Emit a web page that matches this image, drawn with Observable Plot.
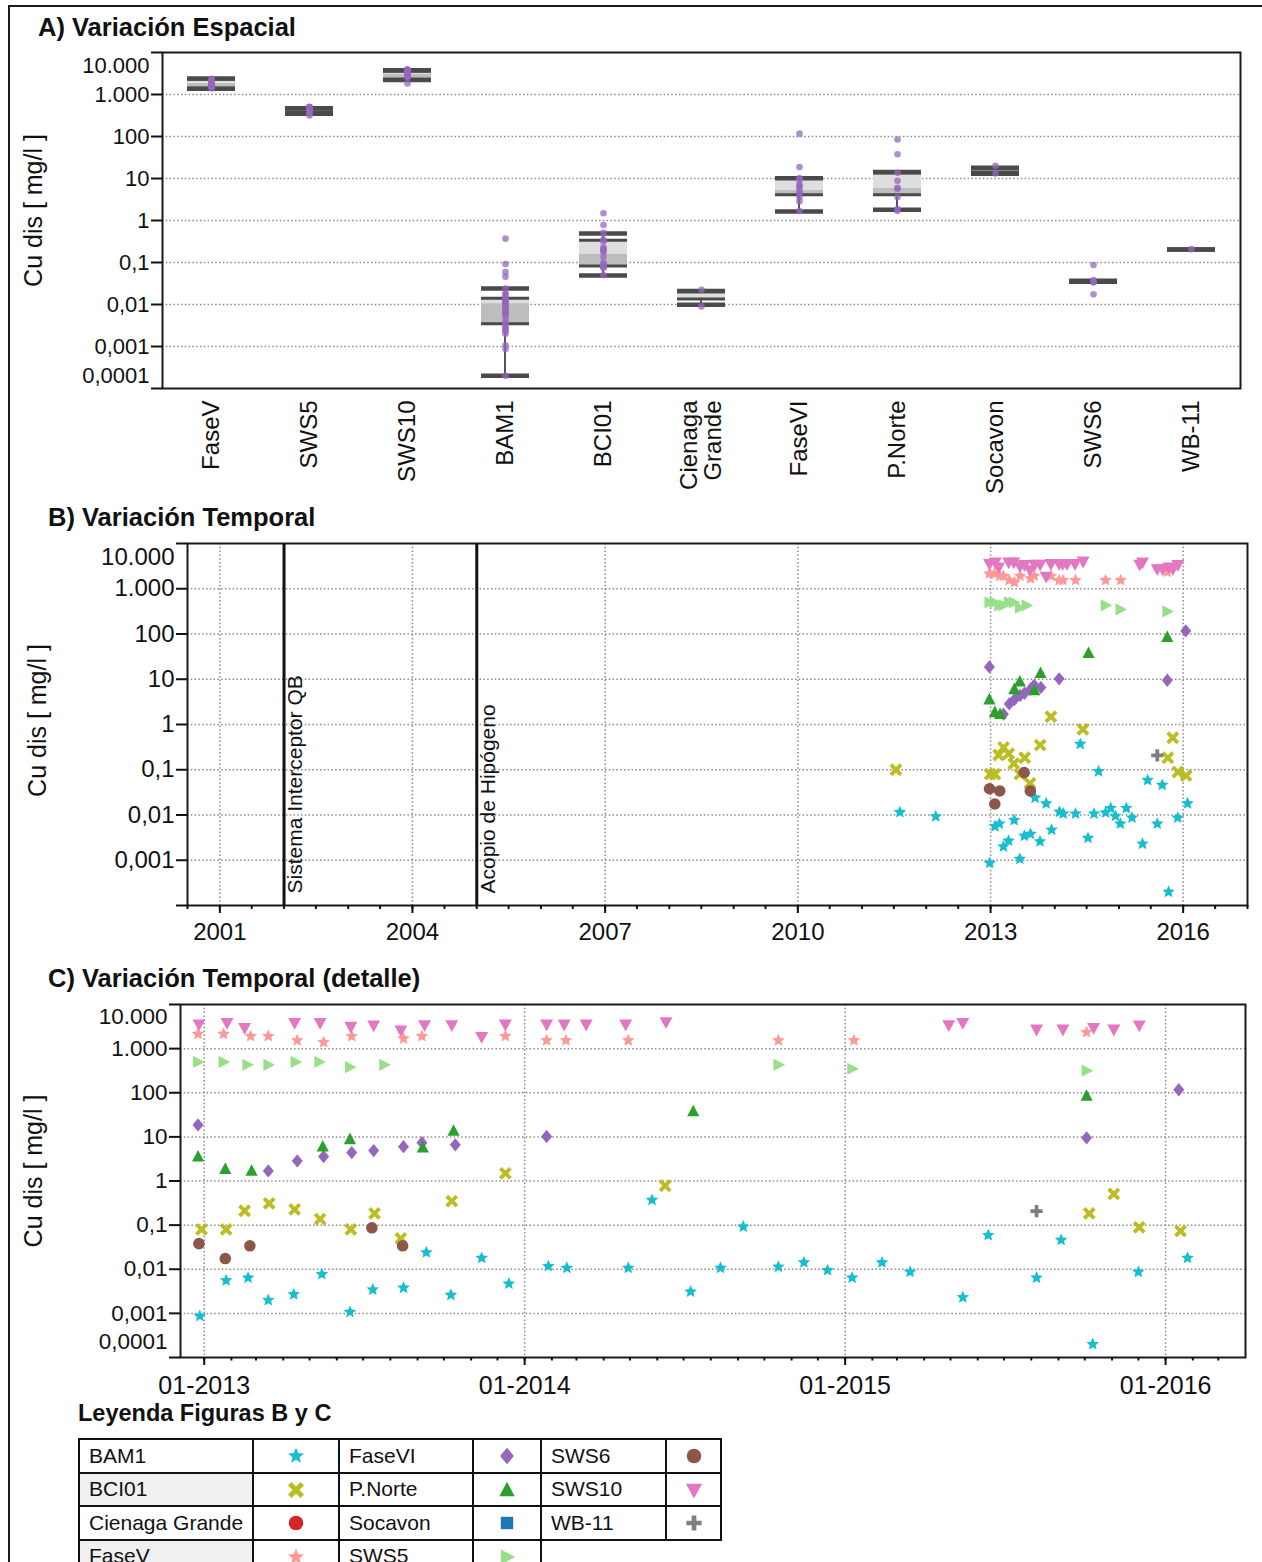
<!DOCTYPE html>
<html lang="es">
<head>
<meta charset="utf-8">
<title>Cu disuelto - variación espacial y temporal</title>
<script src="https://cdn.jsdelivr.net/npm/d3@7"></script>
<script src="https://cdn.jsdelivr.net/npm/@observablehq/plot@0.6"></script>
<style>
  html, body { margin: 0; padding: 0; background: #fff; }
  body { width: 1262px; height: 1562px; overflow: hidden; position: relative;
         font-family: "Liberation Sans", Arial, sans-serif; color: #111; }
  .border { position: absolute; left: 8px; top: 5px; width: 1400px; height: 1700px;
            border-left: 2px solid #1a1a1a; border-top: 2px solid #1a1a1a; z-index: 5; pointer-events: none; }
  .panel { position: absolute; left: 0; }
  .panel svg { display: block; max-width: none; background: transparent; }
  .title { position: absolute; font-weight: bold; font-size: 25.5px; line-height: 1; white-space: nowrap; }
  #legend-title { font-size: 23.5px; }
  table.legend { position: absolute; left: 78px; top: 1438px; width: 642px; border-collapse: collapse;
                 table-layout: fixed; font-size: 21px; }
  table.legend td { border: 2px solid #111; height: 31.5px; padding: 0 0 0 9px; white-space: nowrap; overflow: hidden; }
  table.legend td.shade { background: #f0f0f0; }
  table.legend td.sym { text-align: center; padding: 0; }
  table.legend td svg { display: inline-block; vertical-align: middle; }
</style>
</head>
<body>
<div class="border"></div>
<div id="panelA" class="panel" style="top:0px"></div>
<div id="panelB" class="panel" style="top:500px"></div>
<div id="panelC" class="panel" style="top:960px"></div>
<div class="title" style="left:38px;top:15px">A) Variación Espacial</div>
<div class="title" style="left:48px;top:505px">B) Variación Temporal</div>
<div class="title" style="left:48px;top:966px">C) Variación Temporal (detalle)</div>
<div class="title" id="legend-title" style="left:78px;top:1402px">Leyenda Figuras B y C</div>
<script>
// ---- Cu disuelto [mg/l] por estación: [fecha de muestreo, concentración] ----
const BAM1 = [
  ["2011-08-04", 0.0115], ["2012-02-24", 0.0093], ["2012-12-27", 0.00087], ["2013-01-26", 0.0056],
  ["2013-02-20", 0.0064], ["2013-03-15", 0.0020], ["2013-04-13", 0.0027], ["2013-05-15", 0.0077],
  ["2013-06-16", 0.00107], ["2013-07-12", 0.00345], ["2013-08-16", 0.0038], ["2013-09-11", 0.024],
  ["2013-10-09", 0.0026], ["2013-11-13", 0.018], ["2013-12-14", 0.0047], ["2014-01-28", 0.0117],
  ["2014-02-18", 0.0107], ["2014-04-29", 0.0107], ["2014-05-26", 0.37], ["2014-07-09", 0.0031],
  ["2014-08-12", 0.0107], ["2014-09-07", 0.092], ["2014-10-17", 0.0113], ["2014-11-15", 0.0142],
  ["2014-12-12", 0.0095], ["2015-01-09", 0.0064], ["2015-02-12", 0.0142], ["2015-03-16", 0.0087],
  ["2015-05-15", 0.0023], ["2015-06-13", 0.059], ["2015-08-07", 0.0064], ["2015-09-04", 0.046],
  ["2015-10-10", 0.0002], ["2015-12-01", 0.0087], ["2016-01-26", 0.018]
];
const BCI01 = [
  ["2011-07-13", 0.1], ["2012-12-29", 0.080], ["2013-01-26", 0.080], ["2013-02-16", 0.212],
  ["2013-03-16", 0.31], ["2013-04-14", 0.227], ["2013-05-13", 0.137], ["2013-06-17", 0.080],
  ["2013-07-14", 0.184], ["2013-08-13", 0.050], ["2013-10-10", 0.35], ["2013-12-10", 1.49],
  ["2014-06-10", 0.78], ["2015-10-06", 0.184], ["2015-11-03", 0.51], ["2015-12-02", 0.089],
  ["2016-01-18", 0.074]
];
const FaseV = [
  ["2012-12-25", 2150], ["2013-01-23", 2150], ["2013-02-23", 1910], ["2013-03-15", 1910],
  ["2013-04-17", 1540], ["2013-05-17", 1390], ["2013-06-18", 1910], ["2013-08-16", 1690],
  ["2013-09-06", 1910], ["2013-12-10", 1910], ["2014-01-26", 1540], ["2014-02-17", 1540],
  ["2014-04-29", 1540], ["2014-10-17", 1540], ["2015-01-11", 1540], ["2015-10-03", 2350]
];
const FaseVI = [
  ["2012-12-25", 18.7], ["2013-03-15", 1.69], ["2013-04-17", 2.85], ["2013-05-17", 3.57],
  ["2013-06-18", 4.4], ["2013-07-13", 4.9], ["2013-08-16", 6.0], ["2013-09-06", 7.4],
  ["2013-10-14", 6.6], ["2014-01-26", 10.2], ["2015-10-03", 9.5], ["2016-01-16", 117]
];
const PNorte = [
  ["2012-12-25", 3.57], ["2013-01-25", 1.87], ["2013-02-24", 1.69], ["2013-05-16", 6.0],
  ["2013-06-16", 8.85], ["2013-09-07", 5.7], ["2013-10-12", 13.7], ["2014-07-12", 37.7],
  ["2015-10-03", 85]
];
const SWS5 = [
  ["2012-12-25", 500], ["2013-01-23", 500], ["2013-02-19", 430], ["2013-03-15", 430],
  ["2013-04-15", 500], ["2013-05-12", 500], ["2013-06-16", 380], ["2013-07-25", 430],
  ["2014-10-17", 430], ["2015-01-09", 350], ["2015-10-03", 316]
];
const SWS6 = [
  ["2012-12-26", 0.038], ["2013-01-25", 0.0175], ["2013-02-22", 0.034], ["2013-07-11", 0.087],
  ["2013-08-15", 0.034]
];
const SWS10 = [
  ["2012-12-26", 3510], ["2013-01-27", 3800], ["2013-02-16", 2950], ["2013-04-14", 3800],
  ["2013-05-13", 3800], ["2013-06-17", 3110], ["2013-07-13", 3330], ["2013-08-13", 2570],
  ["2013-09-09", 3400], ["2013-10-10", 3400], ["2013-11-13", 1840], ["2013-12-10", 3500],
  ["2014-01-26", 3500], ["2014-02-15", 3500], ["2014-03-12", 3500], ["2014-04-26", 3500],
  ["2014-06-11", 3980], ["2015-04-29", 3400], ["2015-05-15", 3800], ["2015-08-07", 2700],
  ["2015-09-06", 2700], ["2015-10-11", 2950], ["2015-11-03", 2700], ["2015-12-02", 3330]
];
const WB11 = [["2015-08-07", 0.208]];
// Estaciones sin serie temporal en B y C (solo muestras de la figura A)
const cienagaCu = [0.0225, 0.009];
const socavonCu = [20, 13.2];

// ---- Resumen por estación de la figura A (mínimo, Q1, mediana, Q3, máximo) ----
const stationsA = ["FaseV", "SWS5", "SWS10", "BAM1", "BCI01", "Cienaga Grande", "FaseVI", "P.Norte", "Socavon", "SWS6", "WB-11"];
const boxLow  = [1380, 350, 2200, 0.0002, 0.049, 0.0098, 1.64, 1.8, 13, 0.035, 0.204];
const boxQ1   = [1400, 380, 2300, 0.0035, 0.083, 0.0135, 4.1, 4.1, 14, 0.0355, 0.204];
const boxMed  = [1850, 420, 3000, 0.0105, 0.16, 0.0143, 5.3, 5.8, 15.5, 0.036, 0.204];
const boxQ3   = [2300, 450, 3600, 0.014, 0.34, 0.02, 10, 13.5, 17, 0.0365, 0.204];
const boxHigh = [2400, 470, 3800, 0.024, 0.49, 0.021, 10.2, 14.2, 18, 0.037, 0.204];

// ---- Ejes ----
const decadeTicks = [1e-4, 1e-3, 1e-2, 1e-1, 1, 10, 100, 1000, 10000];
const decadeLabels = ["0,0001", "0,001", "0,01", "0,1", "1", "10", "100", "1.000", "10.000"];
const yearTicksB = ["2001-01-01", "2004-01-01", "2007-01-01", "2010-01-01", "2013-01-01", "2016-01-01"];
const yearTicksC = ["2013-01-01", "2014-01-01", "2015-01-01", "2016-01-01"];
const events = [
  {date: "2002-01-01", label: "Sistema Interceptor QB"},
  {date: "2005-01-01", label: "Acopio de Hipógeno"}
];
const legendOrder = ["BAM1", "BCI01", "Cienaga Grande", "FaseV", "FaseVI", "P.Norte", "Socavon", "SWS5", "SWS6", "SWS10", "WB-11"];
const yLabel = "Cu dis [ mg/l ]";

// ---- Estilo de marcadores ----
const colors = {
  "BAM1": "#17becf", "BCI01": "#bcbd22", "Cienaga Grande": "#d62728", "FaseV": "#ff9896",
  "FaseVI": "#9467bd", "P.Norte": "#2ca02c", "Socavon": "#1f77b4", "SWS5": "#98df8a",
  "SWS6": "#8c564b", "SWS10": "#e377c2", "WB-11": "#7f7f7f"
};
function polygon(points) {
  return {draw(context, size) {
    const r = Math.sqrt(size / Math.PI);
    points.forEach(([x, y], i) => i ? context.lineTo(x * r, y * r) : context.moveTo(x * r, y * r));
    context.closePath();
  }};
}
const starPts = d3.range(10).map(i => {
  const a = i * Math.PI / 5 - Math.PI / 2, k = i % 2 ? 0.46 : 1;
  return [k * Math.cos(a), k * Math.sin(a)];
});
const crossPts = (a, b) => [[-a,-b],[a,-b],[a,-a],[b,-a],[b,a],[a,a],[a,b],[-a,b],[-a,a],[-b,a],[-b,-a],[-a,-a]];
const rot45 = pts => pts.map(([x, y]) => [(x - y) / Math.SQRT2, (x + y) / Math.SQRT2]);
const symbols = {
  "BAM1": polygon(starPts),
  "BCI01": polygon(rot45(crossPts(0.38, 1.4))),
  "Cienaga Grande": d3.symbolCircle,
  "FaseV": polygon(starPts),
  "FaseVI": polygon([[0, -1.15], [0.95, 0], [0, 1.15], [-0.95, 0]]),
  "P.Norte": polygon([[0, -1.15], [1.05, 0.85], [-1.05, 0.85]]),
  "Socavon": polygon([[-0.9, -0.9], [0.9, -0.9], [0.9, 0.9], [-0.9, 0.9]]),
  "SWS5": polygon([[-0.85, -1.05], [1.15, 0], [-0.85, 1.05]]),
  "SWS6": d3.symbolCircle,
  "SWS10": polygon([[-1.1, -0.85], [1.1, -0.85], [0, 1.15]]),
  "WB-11": polygon(crossPts(0.32, 1.05))
};
const markerR = {
  "BAM1": 6.6, "BCI01": 5.1, "Cienaga Grande": 5.8, "FaseV": 6.6, "FaseVI": 5.8, "P.Norte": 5.8,
  "Socavon": 5.5, "SWS5": 5.8, "SWS6": 5.8, "SWS10": 5.9, "WB-11": 5.8
};
const legendScale = 1.25;

const font = "'Liberation Sans', Arial, sans-serif";
const labelOf = new Map(decadeTicks.map((d, i) => [d, decadeLabels[i]]));
const innerTicks = decadeTicks.slice(1, -1);
const dotted = {stroke: "#8a8a8a", strokeWidth: 1.5, strokeDasharray: "1.5,2.3"};

const seriesByStation = {
  "BAM1": BAM1, "BCI01": BCI01, "FaseV": FaseV, "FaseVI": FaseVI, "P.Norte": PNorte,
  "SWS5": SWS5, "SWS6": SWS6, "SWS10": SWS10, "WB-11": WB11
};
const extraA = {"Cienaga Grande": cienagaCu, "Socavon": socavonCu};
const temporal = legendOrder.filter(s => seriesByStation[s]).flatMap(s =>
  seriesByStation[s].map(([d, v]) => ({station: s, date: new Date(d), value: v})));

// Eje Y logarítmico con etiquetas en formato decimal español
function logAxis(fs, topDy, bottomDy) {
  const marks = [
    Plot.axisY(decadeTicks, {tickSize: 11, tickPadding: 2, strokeWidth: 2, fontSize: fs, label: null,
      tickFormat: d => innerTicks.includes(d) ? labelOf.get(d) : ""}),
    Plot.text([decadeTicks[decadeTicks.length - 1]], {y: d => d, text: d => labelOf.get(d),
      frameAnchor: "left", textAnchor: "end", dx: -13, dy: topDy, fontSize: fs})
  ];
  if (bottomDy != null) marks.push(Plot.text([decadeTicks[0]], {y: d => d, text: d => labelOf.get(d),
      frameAnchor: "left", textAnchor: "end", dx: -13, dy: bottomDy, fontSize: fs}));
  return marks;
}
function yTitle(dx, dy) {
  return Plot.text([yLabel], {frameAnchor: "left", rotate: -90, textAnchor: "middle", lineAnchor: "middle",
    dx, dy, fontSize: 25});
}
function seriesMarks(keep) {
  return legendOrder.filter(s => seriesByStation[s]).map(s =>
    Plot.dot(temporal.filter(d => d.station === s && keep(d)), {
      x: "date", y: "value", symbol: symbols[s], r: markerR[s], fill: colors[s], stroke: "none"
    }));
}
const plotStyle = {fontFamily: font, fontSize: "22px", color: "#111", background: "transparent", maxWidth: "none"};

// ---- A) Variación espacial: cajas por estación ----
const boxes = stationsA.map((s, i) => ({station: s, lo: boxLow[i], q1: boxQ1[i], med: boxMed[i], q3: boxQ3[i], hi: boxHigh[i]}));
const samplesA = stationsA.flatMap(s =>
  (seriesByStation[s] ? seriesByStation[s].map(d => d[1]) : extraA[s]).map(v => ({station: s, value: v})));
const boxInset = {insetLeft: 25, insetRight: 25};
const capStyle = {stroke: "#4a4a4a", ...boxInset};

const plotA = Plot.plot({
  width: 1262, height: 500, marginLeft: 162, marginRight: 22, marginTop: 52, marginBottom: 112,
  style: plotStyle,
  x: {type: "band", domain: stationsA, padding: 0, axis: null},
  y: {type: "log", domain: [1e-4, 1e4], label: null},
  marks: [
    Plot.ruleY(innerTicks, dotted),
    Plot.rectY(boxes, {x: "station", y1: "lo", y2: "hi", fill: "#555", insetLeft: 48, insetRight: 48}),
    Plot.rectY(boxes, {x: "station", y1: "q1", y2: "med", fill: "#bdbdbd", ...boxInset}),
    Plot.rectY(boxes, {x: "station", y1: "med", y2: "q3", fill: "#dedede", ...boxInset}),
    Plot.tickY(boxes, {x: "station", y: "q1", strokeWidth: 3, ...capStyle}),
    Plot.tickY(boxes, {x: "station", y: "q3", strokeWidth: 3, ...capStyle}),
    Plot.tickY(boxes, {x: "station", y: "lo", strokeWidth: 4.5, ...capStyle}),
    Plot.tickY(boxes, {x: "station", y: "hi", strokeWidth: 4.5, ...capStyle}),
    Plot.dot(samplesA, {x: "station", y: "value", r: 3.3, fill: "#9467bd", fillOpacity: 0.75, stroke: "none"}),
    Plot.frame({stroke: "#1a1a1a", strokeWidth: 2}),
    ...logAxis(22, 13, -13),
    Plot.text(stationsA, {x: d => d, text: d => d.replace(" ", "\n"), frameAnchor: "bottom",
      rotate: -90, textAnchor: "end", lineAnchor: "middle", dy: 12, fontSize: 24}),
    yTitle(-129, -10)
  ]
});
document.getElementById("panelA").append(plotA);

// ---- B) Variación temporal completa ----
const domainB = [new Date("2000-07-01"), new Date("2017-01-01")];
const plotB = Plot.plot({
  width: 1262, height: 460, marginLeft: 187, marginRight: 15, marginTop: 43, marginBottom: 55,
  style: plotStyle,
  x: {type: "utc", domain: domainB, label: null},
  y: {type: "log", domain: [1e-4, 1e4], label: null},
  marks: [
    Plot.ruleY(innerTicks, dotted),
    Plot.ruleX(yearTicksB.map(d => new Date(d)), dotted),
    Plot.ruleX(events, {x: d => new Date(d.date), stroke: "#111", strokeWidth: 3}),
    Plot.text(events, {x: d => new Date(d.date), text: "label", frameAnchor: "bottom", rotate: -90,
      textAnchor: "start", lineAnchor: "top", dx: 3, dy: -12, fontSize: 21}),
    ...seriesMarks(() => true),
    Plot.frame({stroke: "#1a1a1a", strokeWidth: 2}),
    ...logAxis(24, 14, null),
    Plot.axisX(d3.utcMonth.every(6).range(domainB[0], new Date("2017-01-02")),
      {tickSize: 4, strokeWidth: 2, tickFormat: () => "", label: null}),
    Plot.axisX(yearTicksB.map(d => new Date(d)),
      {tickSize: 8, tickPadding: 9, strokeWidth: 2, fontSize: 24, tickFormat: d3.utcFormat("%Y"), label: null}),
    yTitle(-150, -4)
  ]
});
document.getElementById("panelB").append(plotB);

// ---- C) Variación temporal (detalle 2013-2016) ----
const domainC = [new Date("2012-12-05"), new Date("2016-04-01")];
const plotC = Plot.plot({
  width: 1262, height: 440, marginLeft: 180, marginRight: 17, marginTop: 44, marginBottom: 43,
  style: plotStyle,
  x: {type: "utc", domain: domainC, label: null},
  y: {type: "log", domain: [1e-4, 1e4], label: null},
  marks: [
    Plot.ruleY(innerTicks, dotted),
    Plot.ruleX(yearTicksC.map(d => new Date(d)), dotted),
    ...seriesMarks(d => d.date >= domainC[0]),
    Plot.frame({stroke: "#1a1a1a", strokeWidth: 2}),
    ...logAxis(22.5, 12, -16),
    Plot.axisX(d3.utcMonth.range(domainC[0], domainC[1]),
      {tickSize: 3.5, strokeWidth: 2, tickFormat: () => "", label: null}),
    Plot.axisX(yearTicksC.map(d => new Date(d)),
      {tickSize: 8, tickPadding: 11, strokeWidth: 2, fontSize: 25, tickFormat: d3.utcFormat("%m-%Y"), label: null}),
    yTitle(-147, -10)
  ]
});
document.getElementById("panelC").append(plotC);

// ---- Leyenda de las figuras B y C (tabla de 3 columnas) ----
const colWidths = [174, 86, 134, 68, 125, 55];
const table = document.createElement("table");
table.className = "legend";
const colgroup = document.createElement("colgroup");
colWidths.forEach(w => { const c = document.createElement("col"); c.style.width = w + "px"; colgroup.append(c); });
table.append(colgroup);
for (let row = 0; row < 4; row++) {
  const tr = table.insertRow();
  for (let col = 0; col < 3; col++) {
    const s = legendOrder[col * 4 + row];
    if (!s) continue;
    const name = tr.insertCell();
    name.textContent = s;
    if (col === 0 && row % 2 === 1) name.className = "shade";
    const sym = tr.insertCell();
    sym.className = "sym";
    const r = markerR[s] * legendScale;
    const path = d3.symbol(symbols[s], Math.PI * r * r)();
    sym.innerHTML = `<svg width="24" height="24" viewBox="-12 -12 24 24"><path d="${path}" fill="${colors[s]}"/></svg>`;
  }
}
document.body.append(table);
</script>
</body>
</html>
